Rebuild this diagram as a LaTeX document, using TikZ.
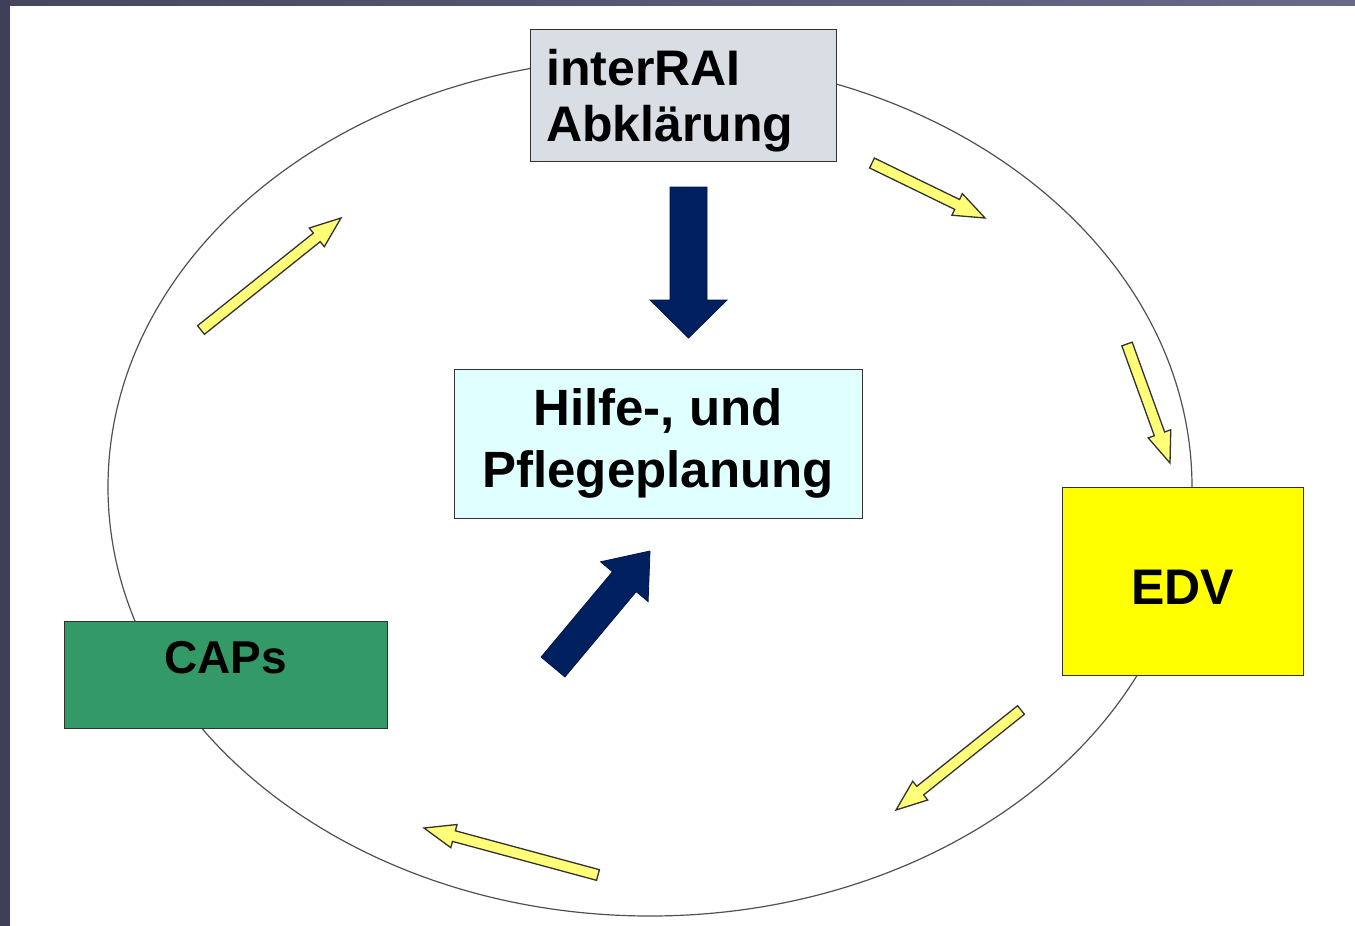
\documentclass[tikz,border=0pt]{standalone}
\usepackage{fontspec}
\setmainfont{Liberation Sans}
\usetikzlibrary{calc}
\definecolor{framedark}{RGB}{62,63,88}
\definecolor{frameleft}{RGB}{70,71,95}
\definecolor{frameright}{RGB}{104,106,138}
\definecolor{raigray}{RGB}{217,222,229}
\definecolor{plancyan}{RGB}{224,255,255}
\definecolor{edvyellow}{RGB}{255,255,0}
\definecolor{capsgreen}{RGB}{51,153,102}
\definecolor{navyarrow}{RGB}{0,32,96}
\definecolor{lightyellow}{RGB}{255,255,120}
\definecolor{outline}{RGB}{50,50,50}
\newcommand{\blkarrow}[6]{%
  \coordinate (hb) at ($(#3)!#6!(#2)$);
  \draw[#1] ($(#2)!#4!90:(#3)$) -- ($(hb)!#4!90:(#3)$) -- ($(hb)!#5!90:(#3)$) -- (#3)
    -- ($(hb)!#5!-90:(#3)$) -- ($(hb)!#4!-90:(#3)$) -- ($(#2)!#4!-90:(#3)$) -- cycle;
}
\tikzset{
  box/.style={draw=outline, line width=1pt, inner sep=0pt, font=\bfseries},
  yarrow/.style={fill=lightyellow, draw=outline, line width=1.3pt, line join=miter},
  narrow/.style={fill=navyarrow, draw=navyarrow!70!black, line width=0.8pt, line join=miter},
}
\begin{document}
\begin{tikzpicture}[x=1pt,y=-1pt]
\useasboundingbox (0,0) rectangle (1355,926);
\fill[white] (0,0) rectangle (1355,926);
% frame
\shade[left color=frameleft, right color=frameright] (0,0) rectangle (1355,5);
\fill[framedark] (0,0) rectangle (10,926);
% cycle ellipse
\draw[outline!85, line width=1.2pt] (650,487) ellipse [x radius=542, y radius=429];
% boxes
\node[box, fill=raigray, minimum width=306pt, minimum height=132pt] (rai) at (683,95) {};
\node[inner sep=0pt, anchor=base west, text width=280pt, align=left,
      font=\bfseries\fontsize{50}{56}\selectfont] (raitext) at (546,85) {interRAI\\Abklärung};
\node[box, fill=plancyan, minimum width=408pt, minimum height=149pt,
      align=center, font=\bfseries\fontsize{51}{62}\selectfont] (plan) at (658,443.5) {Hilfe-, und\\Pflegeplanung};
\node[box, fill=edvyellow, minimum width=241pt, minimum height=188pt,
      text height=46pt, text depth=0pt,
      font=\bfseries\fontsize{50}{60}\selectfont] (edv) at (1182.5,581) {EDV};
\node[box, fill=capsgreen, minimum width=323pt, minimum height=107pt,
      text height=35pt, text depth=38pt,
      font=\bfseries\fontsize{46}{56}\selectfont] (caps) at (225.5,674.5) {CAPs};
% navy arrows
\coordinate (d1s) at (688.5,187);
\coordinate (d1e) at (688.5,338);
\blkarrow{narrow}{d1s}{d1e}{18.5pt}{38.5pt}{38pt}
\coordinate (d2s) at (553,667);
\coordinate (d2e) at (650,551);
\blkarrow{narrow}{d2s}{d2e}{15.5pt}{31pt}{40pt}
% yellow arrows
\coordinate (y1s) at (872,163);
\coordinate (y1e) at (985,218);
\blkarrow{yarrow}{y1s}{y1e}{5.5pt}{12pt}{31pt}
\coordinate (y2s) at (1127,344);
\coordinate (y2e) at (1170,463);
\blkarrow{yarrow}{y2s}{y2e}{5.5pt}{12pt}{31pt}
\coordinate (y3s) at (1021,710);
\coordinate (y3e) at (896,810);
\blkarrow{yarrow}{y3s}{y3e}{5.5pt}{12pt}{31pt}
\coordinate (y4s) at (598,875);
\coordinate (y4e) at (424,828);
\blkarrow{yarrow}{y4s}{y4e}{5.5pt}{12pt}{31pt}
\coordinate (y5s) at (201,330);
\coordinate (y5e) at (341,218);
\blkarrow{yarrow}{y5s}{y5e}{5.5pt}{12pt}{31pt}
\end{tikzpicture}
\end{document}
